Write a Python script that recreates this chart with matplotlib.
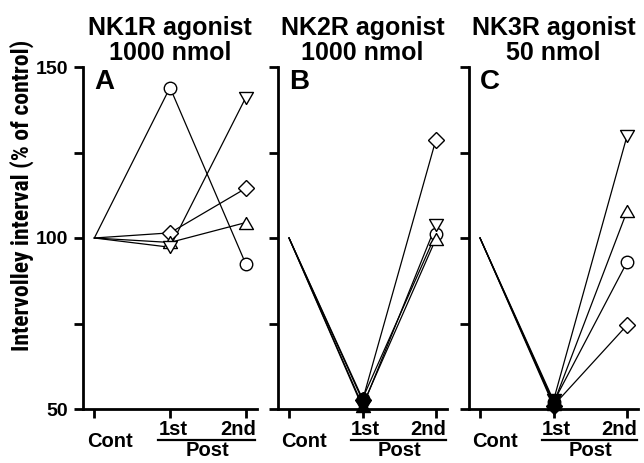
import matplotlib
matplotlib.use("Agg")
import matplotlib.pyplot as plt
from matplotlib.transforms import offset_copy

plt.rcParams['font.family'] = ['Liberation Sans', 'DejaVu Sans']
plt.rcParams['font.weight'] = 'bold'

# x positions: Cont, 1st Post, 2nd Post
stages = [0, 1, 2]
stage_labels = ['Cont', '1st', '2nd']

titles = ['NK1R agonist\n1000 nmol', 'NK2R agonist\n1000 nmol', 'NK3R agonist\n50 nmol']
letters = ['A', 'B', 'C']

# each row: circle, diamond, triangle up, triangle down
nk1_vals = [[100, 144.0, 92.5],
            [100, 101.5, 114.5],
            [100, 98.7, 104.5],
            [100, 97.3, 141.0]]
nk2_vals = [[100, 53.0, 101.2],
            [100, 52.5, 128.8],
            [100, 51.0, 99.8],
            [100, 50.5, 103.8]]
nk3_vals = [[100, 52.0, 92.9],
            [100, 51.0, 74.5],
            [100, 51.5, 107.8],
            [100, 52.5, 129.8]]
panel_data = [nk1_vals, nk2_vals, nk3_vals]
filled_first = [False, True, True]

ytick_vals = [50, 75, 100, 125, 150]
ytick_text = ['50', '', '100', '', '150']

# flatter (equilateral) triangles like the original symbols
tri_up = [(0, 0.866), (-1, -0.866), (1, -0.866), (0, 0.866)]
tri_down = [(0, -0.866), (-1, 0.866), (1, 0.866), (0, -0.866)]
markers = ['o', 'D', tri_up, tri_down]
msizes = [9, 8.5, 10, 10]

# label positions are a bit off the ticks in the original
label_x = [0.2, 1.04, 1.9]

fig = plt.figure(figsize=(6.44, 4.63), dpi=100)
W, H = 644, 463
boxes = [(83, 174), (278, 169), (469, 169)]
ax_top, ax_bot = 67, 409

for k in range(3):
    left, width = boxes[k]
    ax = fig.add_axes([left / W, 1 - ax_bot / H, width / W, (ax_bot - ax_top) / H])
    for vals, m, ms in zip(panel_data[k], markers, msizes):
        ax.plot(stages, vals, '-', color='black', lw=0.9, zorder=2, clip_on=False)
        ax.plot(stages[2], vals[2], marker=m, ms=ms, mfc='white', mec='black',
                mew=1.0, zorder=3, clip_on=False, ls='none')
        fc = 'black' if filled_first[k] else 'white'
        ax.plot(stages[1], vals[1], marker=m, ms=ms, mfc=fc, mec='black',
                mew=1.0, zorder=3, clip_on=False, ls='none')

    ax.set_xlim(-0.15, 2.15)
    ax.set_ylim(50, 150)
    for s in ['top', 'right']:
        ax.spines[s].set_visible(False)
    for s in ['left', 'bottom']:
        ax.spines[s].set_linewidth(2.0)
    ax.set_xticks(stages)
    ax.set_xticklabels([])
    ax.set_yticks(ytick_vals)
    if k == 0:
        ax.set_yticklabels(ytick_text, fontsize=14, fontweight='bold')
    else:
        ax.set_yticklabels([])
    ax.tick_params(axis='both', direction='out', length=6.5, width=2.0, pad=4)

    ax.set_title(titles[k], fontsize=18, fontweight='bold', pad=5, linespacing=1.05)
    ax.text(0.065, 0.995, letters[k], transform=ax.transAxes, fontsize=20,
            fontweight='bold', ha='left', va='top')

    # stage labels below the axis
    xt = ax.get_xaxis_transform()
    ax.text(label_x[0], 0, stage_labels[0], transform=offset_copy(xt, fig=fig, y=-38, units='dots'),
            ha='center', va='baseline', fontsize=14.5, fontweight='bold')
    for xv, lab in zip(label_x[1:], stage_labels[1:]):
        ax.text(xv, 0, lab, transform=offset_copy(xt, fig=fig, y=-26, units='dots'),
                ha='center', va='baseline', fontsize=14.5, fontweight='bold')
    ax.plot([0.84, 2.13], [0, 0], color='black', lw=1.6, clip_on=False,
            transform=offset_copy(xt, fig=fig, y=-31, units='dots'))
    ax.text(1.5, 0, 'Post', transform=offset_copy(xt, fig=fig, y=-47, units='dots'),
            ha='center', va='baseline', fontsize=14.5, fontweight='bold')

fig.text(22 / W, 1 - 195 / H, 'Intervolley interval (% of control)', rotation=90,
         ha='center', va='center', fontsize=17, fontweight='bold',
         family=['Roboto Condensed', 'Liberation Sans', 'DejaVu Sans'])

fig.savefig('out.png', dpi=100)
